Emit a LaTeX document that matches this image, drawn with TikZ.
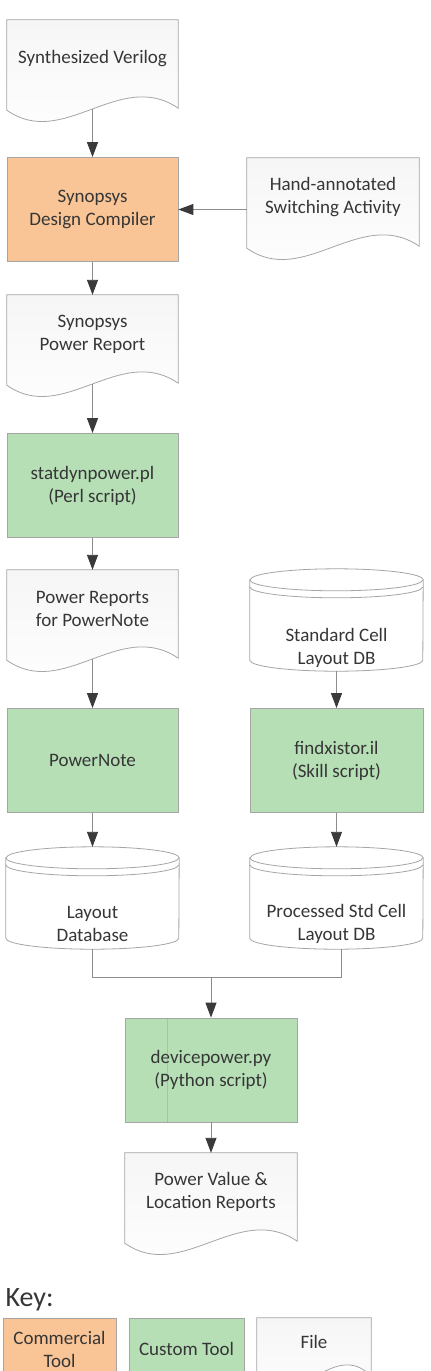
\documentclass[tikz,border=0pt]{standalone}
\usepackage{fontspec}
\setmainfont{Carlito}
\usetikzlibrary{positioning, arrows.meta, backgrounds, calc}
\definecolor{FlowText}{HTML}{363636}
\definecolor{FlowLine}{HTML}{8C8C8C}
\definecolor{FlowHead}{HTML}{3A3A3A}
\definecolor{BoxBorder}{HTML}{A5A5A5}
\definecolor{CommercialBg}{HTML}{F9C596}
\definecolor{CustomBg}{HTML}{B6DFB6}
\definecolor{CustomSeam}{HTML}{9CCB9C}
\definecolor{FileTop}{HTML}{F6F6F6}
\tikzset{
    basetext/.style={align=center, text=FlowText, font=\fontsize{19}{23}\selectfont},
    commercial/.style={basetext, rectangle, draw=BoxBorder, fill=CommercialBg, minimum width=171pt, minimum height=104pt, line width=0.8pt},
    custom/.style={basetext, rectangle, draw=BoxBorder, fill=CustomBg, minimum width=171pt, minimum height=104pt, line width=0.8pt},
    filedoc/.style={basetext, rectangle, minimum width=171pt, minimum height=78pt, inner sep=0pt},
    dbcyl/.style={rectangle, minimum width=173pt, minimum height=102pt, inner sep=0pt},
    outline/.style={draw=BoxBorder, line width=0.8pt},
    arr/.style={-{Triangle[length=15pt, width=11pt, color=FlowHead]}, draw=FlowLine, line width=0.9pt},
    plainline/.style={draw=FlowLine, line width=0.9pt}
}
% wavy bottom of a file shape, drawn behind node #1
\newcommand{\docwave}[1]{%
  \begin{scope}[on background layer]
    \draw[outline, top color=FileTop, bottom color=white]
      (#1.north west) -- (#1.north east) -- ([yshift=-10pt]#1.south east)
      .. controls ($(#1.south west)!0.66!(#1.south east)+(0pt,30pt)$)
             and ($(#1.south west)!0.33!(#1.south east)+(0pt,-52pt)$)
      .. ([yshift=-12pt]#1.south west) -- cycle;
  \end{scope}}
% database drum behind node #1
\newcommand{\dbdrum}[1]{%
  \begin{scope}[on background layer]
    \draw[outline, fill=white] ([yshift=-11pt]#1.north west) -- ([yshift=11pt]#1.south west)
      arc[start angle=180, end angle=360, x radius=86.5pt, y radius=11pt]
      -- ([yshift=-11pt]#1.north east)
      arc[start angle=0, end angle=180, x radius=86.5pt, y radius=11pt] -- cycle;
    \draw[outline] ([yshift=-11pt]#1.north west) arc[start angle=180, end angle=360, x radius=86.5pt, y radius=11pt];
    \draw[outline] ([yshift=-18pt]#1.north west) arc[start angle=180, end angle=360, x radius=86.5pt, y radius=11pt];
  \end{scope}}

\begin{document}
\begin{tikzpicture}[x=1pt, y=1pt]

    \useasboundingbox (0,0) rectangle (431,-1371);
    \begin{scope}[on background layer]
        \fill[white] (0,0) rectangle (431,-1371);
    \end{scope}

    % --- SYNTHESIS ---
    \node[filedoc] (verilog) at (92.5,-59) {Synthesized Verilog};
    \node[commercial] (dc) at (92.5,-209.5) {Synopsys\\Design Compiler};
    \node[filedoc, minimum width=172pt] (hand) at (333,-197) {Hand-annotated\\Switching Activity};
    \node[filedoc] (report) at (92.5,-334) {Synopsys\\Power Report};
    \node[custom] (statdyn) at (92.5,-485.5) {statdynpower.pl\\(Perl script)};
    \node[filedoc] (pnreport) at (92.5,-609) {Power Reports\\for PowerNote};

    % --- LAYOUT ---
    \node[dbcyl] (stdcell) at (336.5,-620) {};
    \node[basetext] (stdcelltxt) at ([yshift=-28pt]stdcell.center) {Standard Cell\\Layout DB};
    \node[custom] (powernote) at (92.5,-760.5) {PowerNote};
    \node[custom, minimum width=173pt] (findx) at (336.5,-760.5) {findxistor.il\\(Skill script)};
    \node[dbcyl] (layoutdb) at (92.5,-898) {};
    \node[basetext] (layoutdbtxt) at ([yshift=-26pt]layoutdb.center) {Layout\\Database};
    \node[dbcyl] (procdb) at (336.5,-898) {};
    \node[basetext] (procdbtxt) at ([yshift=-26pt]procdb.center) {Processed Std Cell\\Layout DB};

    % --- DEVICE POWER ---
    \node[custom, minimum width=172pt, path picture={\draw[CustomSeam, line width=0.7pt]
        ([xshift=42pt]path picture bounding box.north west) -- ([xshift=42pt]path picture bounding box.south west);}]
        (devpower) at (211,-1070) {devicepower.py\\(Python script)};
    \node[filedoc, minimum width=172pt] (result) at (211,-1192) {Power Value \&\\Location Reports};

    \docwave{verilog} \docwave{hand} \docwave{report} \docwave{pnreport} \docwave{result}
    \dbdrum{stdcell} \dbdrum{layoutdb} \dbdrum{procdb}

    % --- FLOW ---
    \draw[arr] ([yshift=-11pt]verilog.south) -- (dc.north);
    \draw[arr] (hand.west |- dc.east) -- (dc.east);
    \draw[arr] (dc.south) -- (report.north);
    \draw[arr] ([yshift=-11pt]report.south) -- (statdyn.north);
    \draw[arr] (statdyn.south) -- (pnreport.north);
    \draw[arr] ([yshift=-11pt]pnreport.south) -- (powernote.north);
    \draw[arr] (stdcell.south) -- (findx.north);
    \draw[arr] (powernote.south) -- (layoutdb.north);
    \draw[arr] (findx.south) -- (procdb.north);
    \coordinate (merge) at (211,-977);
    \draw[plainline] (layoutdb.south) |- (merge);
    \draw[plainline] ([xshift=5pt]procdb.south) |- (merge);
    \draw[arr] (merge) -- (devpower.north);
    \draw[arr] (devpower.south) -- (result.north);

    % --- KEY ---
    \node[anchor=west, text=FlowText, font=\fontsize{28}{34}\selectfont] (keytitle) at (2,-1300) {Key:};
    \node[commercial, minimum width=113pt, minimum height=62pt] (keycom) at (59.5,-1349) {Commercial\\Tool};
    \node[custom, minimum width=115pt, minimum height=62pt] (keycus) at (186.5,-1349) {Custom Tool};
    \node[filedoc, minimum width=114pt, minimum height=48pt] (keyfile) at (314,-1342) {File};
    \docwave{keyfile}

\end{tikzpicture}
\end{document}
